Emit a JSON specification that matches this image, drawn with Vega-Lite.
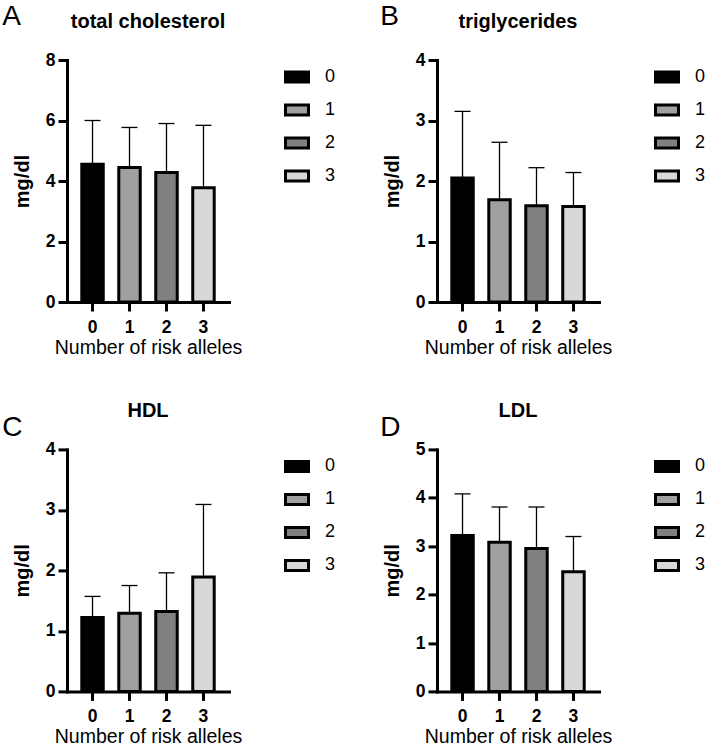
{
  "$schema": "https://vega.github.io/schema/vega-lite/v6.json",
  "background": "white",
  "padding": {"left": 2, "top": 3, "right": 0, "bottom": 0},
  "autosize": {"type": "pad"},
  "data": {"values": [
    {"panel": "A", "g": "0", "mean": 4.55, "upper": 6.0},
    {"panel": "A", "g": "1", "mean": 4.45, "upper": 5.77},
    {"panel": "A", "g": "2", "mean": 4.28, "upper": 5.9},
    {"panel": "A", "g": "3", "mean": 3.78, "upper": 5.84},
    {"panel": "B", "g": "0", "mean": 2.05, "upper": 3.15},
    {"panel": "B", "g": "1", "mean": 1.69, "upper": 2.64},
    {"panel": "B", "g": "2", "mean": 1.59, "upper": 2.22},
    {"panel": "B", "g": "3", "mean": 1.58, "upper": 2.14},
    {"panel": "C", "g": "0", "mean": 1.22, "upper": 1.57},
    {"panel": "C", "g": "1", "mean": 1.29, "upper": 1.75},
    {"panel": "C", "g": "2", "mean": 1.32, "upper": 1.96},
    {"panel": "C", "g": "3", "mean": 1.89, "upper": 3.09},
    {"panel": "D", "g": "0", "mean": 3.22, "upper": 4.08},
    {"panel": "D", "g": "1", "mean": 3.08, "upper": 3.81},
    {"panel": "D", "g": "2", "mean": 2.95, "upper": 3.81},
    {"panel": "D", "g": "3", "mean": 2.47, "upper": 3.2}
  ]},
  "columns": 2,
  "spacing": {"column": 40, "row": 44.4},
  "resolve": {"scale": {"fill": "independent", "x": "independent", "y": "independent"}, "legend": {"fill": "independent"}},
  "concat": [
    {
      "title": {"text": "A", "anchor": "start", "fontSize": 28, "fontWeight": "normal", "offset": -19, "dx": -10},
      "resolve": {"scale": {"fill": "independent"}, "legend": {"fill": "independent"}},
      "vconcat": [{
        "title": "total cholesterol",
        "width": 162, "height": 242,
        "transform": [{"filter": "datum.panel == 'A'"}],
        "encoding": {"x": {"field": "g", "type": "nominal", "title": "Number of risk alleles", "scale": {"paddingInner": 0.42, "paddingOuter": 0.4}}},
        "layer": [
          {"mark": {"type": "rule", "color": "black", "strokeWidth": 1.3}, "encoding": {"y": {"field": "mean", "type": "quantitative", "title": "mg/dl", "scale": {"domain": [0, 8], "nice": false}, "axis": {"values": [0, 2, 4, 6, 8], "format": "d"}}, "y2": {"field": "upper"}}},
          {"mark": {"type": "tick", "color": "black", "thickness": 1.3, "size": 16, "opacity": 1}, "encoding": {"y": {"field": "upper", "type": "quantitative", "title": "mg/dl"}}},
          {"mark": {"type": "bar", "stroke": "black", "strokeWidth": 3}, "encoding": {"y": {"field": "mean", "type": "quantitative", "title": "mg/dl"}, "fill": {"field": "g", "type": "nominal", "scale": {"domain": ["0", "1", "2", "3"], "range": ["#000000", "#a0a0a0", "#808080", "#d8d8d8"]}}}}
        ]
      }]
    },
    {
      "title": {"text": "B", "anchor": "start", "fontSize": 28, "fontWeight": "normal", "offset": -19, "dx": -2},
      "resolve": {"scale": {"fill": "independent"}, "legend": {"fill": "independent"}},
      "vconcat": [{
        "title": "triglycerides",
        "width": 162, "height": 242,
        "transform": [{"filter": "datum.panel == 'B'"}],
        "encoding": {"x": {"field": "g", "type": "nominal", "title": "Number of risk alleles", "scale": {"paddingInner": 0.42, "paddingOuter": 0.4}}},
        "layer": [
          {"mark": {"type": "rule", "color": "black", "strokeWidth": 1.3}, "encoding": {"y": {"field": "mean", "type": "quantitative", "title": "mg/dl", "scale": {"domain": [0, 4], "nice": false}, "axis": {"values": [0, 1, 2, 3, 4], "format": "d"}}, "y2": {"field": "upper"}}},
          {"mark": {"type": "tick", "color": "black", "thickness": 1.3, "size": 16, "opacity": 1}, "encoding": {"y": {"field": "upper", "type": "quantitative", "title": "mg/dl"}}},
          {"mark": {"type": "bar", "stroke": "black", "strokeWidth": 3}, "encoding": {"y": {"field": "mean", "type": "quantitative", "title": "mg/dl"}, "fill": {"field": "g", "type": "nominal", "scale": {"domain": ["0", "1", "2", "3"], "range": ["#000000", "#a0a0a0", "#808080", "#d8d8d8"]}}}}
        ]
      }]
    },
    {
      "title": {"text": "C", "anchor": "start", "fontSize": 28, "fontWeight": "normal", "offset": -41, "dx": -10},
      "resolve": {"scale": {"fill": "independent"}, "legend": {"fill": "independent"}},
      "vconcat": [{
        "title": "HDL",
        "width": 162, "height": 242,
        "transform": [{"filter": "datum.panel == 'C'"}],
        "encoding": {"x": {"field": "g", "type": "nominal", "title": "Number of risk alleles", "scale": {"paddingInner": 0.42, "paddingOuter": 0.4}}},
        "layer": [
          {"mark": {"type": "rule", "color": "black", "strokeWidth": 1.3}, "encoding": {"y": {"field": "mean", "type": "quantitative", "title": "mg/dl", "scale": {"domain": [0, 4], "nice": false}, "axis": {"values": [0, 1, 2, 3, 4], "format": "d"}}, "y2": {"field": "upper"}}},
          {"mark": {"type": "tick", "color": "black", "thickness": 1.3, "size": 16, "opacity": 1}, "encoding": {"y": {"field": "upper", "type": "quantitative", "title": "mg/dl"}}},
          {"mark": {"type": "bar", "stroke": "black", "strokeWidth": 3}, "encoding": {"y": {"field": "mean", "type": "quantitative", "title": "mg/dl"}, "fill": {"field": "g", "type": "nominal", "scale": {"domain": ["0", "1", "2", "3"], "range": ["#000000", "#a0a0a0", "#808080", "#d8d8d8"]}}}}
        ]
      }]
    },
    {
      "title": {"text": "D", "anchor": "start", "fontSize": 28, "fontWeight": "normal", "offset": -41, "dx": -2},
      "resolve": {"scale": {"fill": "independent"}, "legend": {"fill": "independent"}},
      "vconcat": [{
        "title": "LDL",
        "width": 162, "height": 242,
        "transform": [{"filter": "datum.panel == 'D'"}],
        "encoding": {"x": {"field": "g", "type": "nominal", "title": "Number of risk alleles", "scale": {"paddingInner": 0.42, "paddingOuter": 0.4}}},
        "layer": [
          {"mark": {"type": "rule", "color": "black", "strokeWidth": 1.3}, "encoding": {"y": {"field": "mean", "type": "quantitative", "title": "mg/dl", "scale": {"domain": [0, 5], "nice": false}, "axis": {"values": [0, 1, 2, 3, 4, 5], "format": "d"}}, "y2": {"field": "upper"}}},
          {"mark": {"type": "tick", "color": "black", "thickness": 1.3, "size": 16, "opacity": 1}, "encoding": {"y": {"field": "upper", "type": "quantitative", "title": "mg/dl"}}},
          {"mark": {"type": "bar", "stroke": "black", "strokeWidth": 3}, "encoding": {"y": {"field": "mean", "type": "quantitative", "title": "mg/dl"}, "fill": {"field": "g", "type": "nominal", "scale": {"domain": ["0", "1", "2", "3"], "range": ["#000000", "#a0a0a0", "#808080", "#d8d8d8"]}}}}
        ]
      }]
    }
  ],
  "config": {
    "view": {"stroke": null},
    "font": "Liberation Sans",
    "title": {"font": "Liberation Sans", "fontSize": 20, "fontWeight": "bold", "color": "black", "offset": 19},
    "axis": {"domainColor": "black", "domainWidth": 3, "domainCap": "square", "tickColor": "black", "tickWidth": 3, "tickSize": 9, "labelFont": "Liberation Sans", "labelFontWeight": "bold", "labelFontSize": 17.5, "labelColor": "black", "titleFont": "Liberation Sans", "titleColor": "black", "grid": false},
    "axisX": {"labelAngle": 0, "titleFontWeight": "normal", "titleFontSize": 19.5, "labelPadding": 7, "titlePadding": 3},
    "axisY": {"titleFontWeight": "bold", "titleFontSize": 20, "titlePadding": 13, "labelPadding": 3},
    "legend": {"title": null, "orient": "right", "offset": 51, "padding": 4, "labelFont": "Liberation Sans", "labelFontSize": 18, "labelColor": "black", "symbolType": "M-1,-0.435H1V0.435H-1Z", "symbolSize": 529, "symbolStrokeColor": "black", "symbolStrokeWidth": 3, "symbolOpacity": 1, "rowPadding": 8, "labelOffset": 15}
  }
}
